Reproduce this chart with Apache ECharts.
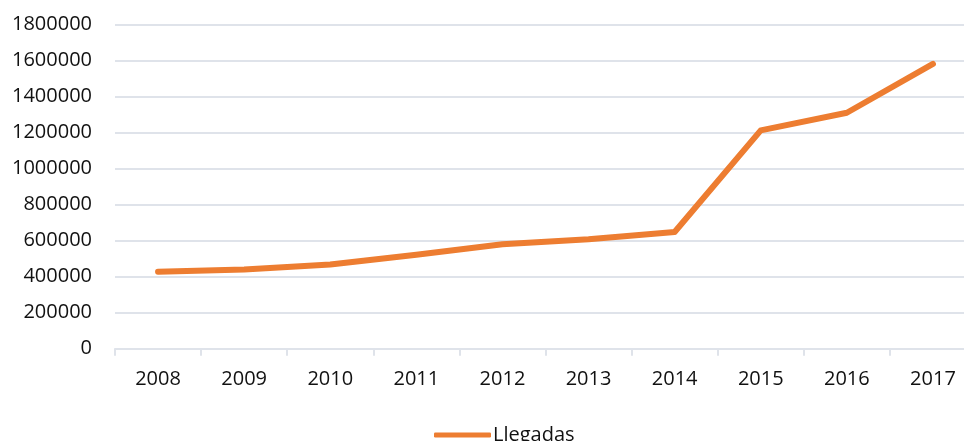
<!DOCTYPE html>
<html>
<head>
<meta charset="utf-8">
<script src="https://cdn.jsdelivr.net/npm/echarts@6/dist/echarts.min.js"></script>
<style>
  html, body { margin: 0; padding: 0; background: #fff; overflow: hidden; }
  /* plot area runs past the right edge of the picture, as in the reference */
  #chart { width: 976px; height: 441px; }
</style>
</head>
<body>
<div id="chart"></div>
<script>
// values
const years = ['2008', '2009', '2010', '2011', '2012', '2013', '2014', '2015', '2016', '2017'];
const llegadas = [427000, 440000, 467000, 522000, 580000, 608000, 648000, 1212000, 1310000, 1581000];
const seriesName = 'Llegadas';

const gridColor = '#dfe3ea';
const textColor = '#111';
const fontFamily = '"Open Sans", sans-serif';

const myChart = echarts.init(document.getElementById('chart'));
myChart.setOption({
    animation: false,
    backgroundColor: '#fff',
    grid: {
        left: 115,
        right: 0,
        top: 24.5,
        bottom: 92.3
    },
    legend: {
        data: [seriesName],
        left: 429,
        top: 420,
        icon: 'roundRect',
        itemWidth: 57,
        itemHeight: 5,
        textStyle: {
            fontFamily: fontFamily,
            fontSize: 20,
            color: textColor,
            padding: [0, 0, 0, -3]
        }
    },
    xAxis: {
        type: 'category',
        data: years,
        boundaryGap: true,
        axisLine: { lineStyle: { color: gridColor, width: 2 } },
        axisTick: { show: true, length: 7, lineStyle: { color: gridColor, width: 2 } },
        axisLabel: {
            margin: 21,
            fontFamily: fontFamily,
            fontSize: 20,
            color: textColor
        }
    },
    yAxis: {
        type: 'value',
        min: 0,
        max: 1800000,
        interval: 200000,
        axisLine: { show: false },
        axisTick: { show: false },
        splitLine: { lineStyle: { color: gridColor, width: 2 } },
        axisLabel: {
            margin: 23,
            fontFamily: fontFamily,
            fontSize: 20,
            color: textColor,
            formatter: (v) => String(v)
        }
    },
    series: [
        {
            name: seriesName,
            type: 'line',
            data: llegadas,
            symbol: 'none',
            smooth: false,
            itemStyle: { color: '#ed7d31' },
            lineStyle: { color: '#ed7d31', width: 6, cap: 'round', join: 'round' }
        }
    ]
});
</script>
</body>
</html>
